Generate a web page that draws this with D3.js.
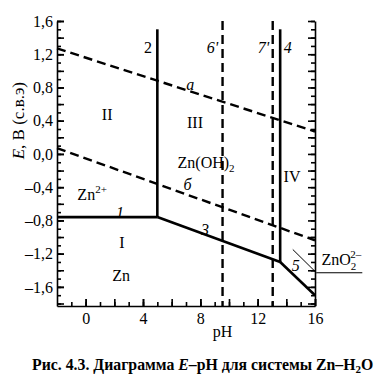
<!DOCTYPE html>
<html>
<head>
<meta charset="utf-8">
<script src="https://cdn.jsdelivr.net/npm/d3@7"></script>
<style>
  body { margin: 0; background: #fff; }
  svg text { font-family: "Liberation Serif", "DejaVu Serif", serif; fill: #000; }
  .axis path, .axis line { stroke: #000; stroke-width: 1.6; }
</style>
</head>
<body>
<svg id="chart" width="377" height="383"></svg>
<script>
// Boundary lines of the Zn-H2O E-pH diagram: [pH, E]
var line1 = [[-2, -0.76], [5, -0.76]];
var line2 = [[5, -0.76], [5, 1.5]];
var line3 = [[5, -0.76], [13.57, -1.3]];
var line4 = [[13.57, -1.3], [13.57, 1.5]];
var line5 = [[13.57, -1.3], [16, -1.7]];
// water stability lines (dashed)
var lineA = [[-2, 1.27], [16, 0.27]];
var lineB = [[-2, 0.07], [16, -1.04]];
var line6 = [[9.55, 1.6], [9.55, -1.83]];
var line7 = [[13.05, 1.6], [13.05, -1.83]];
// leader for ZnO2 2- label
var leader = [[14.45, -1.15], [16.1, -1.43], [19.3, -1.43]];

var xTicks = [0, 4, 8, 12, 16];
var yTicks = [1.6, 1.2, 0.8, 0.4, 0.0, -0.4, -0.8, -1.2, -1.6];

// text labels: [text, pH, E, italic]
var labels = [
    ["2", 4.35, 1.28, false],
    ["6'", 8.85, 1.28, true],
    ["7'", 12.4, 1.28, true],
    ["4", 14.1, 1.28, true],
    ["a", 7.3, 0.84, true],
    ["II", 1.5, 0.47, false],
    ["III", 7.63, 0.38, false],
    ["IV", 14.4, -0.27, false],
    ["\u0431", 7.1, -0.37, true],
    ["1", 2.4, -0.70, true],
    ["I", 2.53, -1.06, false],
    ["Zn", 2.47, -1.46, false],
    ["3", 8.33, -0.91, true],
    ["5", 14.65, -1.34, true]
];

var svg = d3.select("#chart");
var x = d3.scaleLinear().domain([-2, 16]).range([57, 315]);
var y = d3.scaleLinear().domain([-1.83, 1.6]).range([306, 21]);

// axes
var steps = function(a, b, s) { return d3.range(Math.round(a / s), Math.round(b / s) + 1).map(v => +(v * s).toFixed(2)); };
var fmt = v => (v < 0 ? "\u2013" : "") + Math.abs(v).toFixed(1).replace(".", ",");

var yMinor = steps(-1.8, 1.6, 0.1);
var yMid = steps(-1.8, 1.6, 0.2);

svg.append("g").attr("class", "axis")
    .attr("transform", `translate(${x(-2)},0)`)
    .call(d3.axisLeft(y).tickValues(yMinor).tickSize(-4).tickFormat(""))
    .call(g => g.select(".domain").remove());
svg.append("g").attr("class", "axis")
    .attr("transform", `translate(${x(-2)},0)`)
    .call(d3.axisLeft(y).tickValues(yMid).tickSize(-7).tickFormat(""))
    .call(g => g.select(".domain").remove());
svg.append("g").attr("class", "axis")
    .attr("transform", `translate(${x(-2)},0)`)
    .call(d3.axisLeft(y).tickValues(yTicks).tickSize(-7).tickPadding(4).tickFormat(fmt).tickSizeOuter(0))
    .call(g => g.selectAll("text").attr("font-size", 16));

// right axis
svg.append("g").attr("class", "axis")
    .attr("transform", `translate(${x(16)},0)`)
    .call(d3.axisRight(y).tickValues(yMinor).tickSize(-4).tickFormat(""))
    .call(g => g.select(".domain").remove());
svg.append("g").attr("class", "axis")
    .attr("transform", `translate(${x(16)},0)`)
    .call(d3.axisRight(y).tickValues(yMid).tickSize(-7).tickFormat("").tickSizeOuter(0));

// bottom axis
svg.append("g").attr("class", "axis")
    .attr("transform", `translate(0,${y(-1.83)})`)
    .call(d3.axisBottom(x).tickValues(d3.range(-1, 16, 1)).tickSize(-4).tickFormat(""))
    .call(g => g.select(".domain").remove());
svg.append("g").attr("class", "axis")
    .attr("transform", `translate(0,${y(-1.83)})`)
    .call(d3.axisBottom(x).tickValues(d3.range(0, 17, 2)).tickSize(-7).tickFormat(""))
    .call(g => g.select(".domain").remove());
svg.append("g").attr("class", "axis")
    .attr("transform", `translate(0,${y(-1.83)})`)
    .call(d3.axisBottom(x).tickValues(xTicks).tickSize(-7).tickPadding(7).tickSizeOuter(0))
    .call(g => g.selectAll("text").attr("font-size", 16));

var line = d3.line().x(d => x(d[0])).y(d => y(d[1]));

// dashed lines
[lineA, lineB, line6, line7].forEach(d => {
    svg.append("path").attr("d", line(d))
        .attr("fill", "none").attr("stroke", "#000")
        .attr("stroke-width", 2.4).attr("stroke-dasharray", "9,5");
});

// solid boundaries
[line1, line2, line3, line4, line5].forEach(d => {
    svg.append("path").attr("d", line(d))
        .attr("fill", "none").attr("stroke", "#000")
        .attr("stroke-width", 2.6).attr("stroke-linejoin", "round");
});

// leader line
svg.append("path").attr("d", line(leader))
    .attr("fill", "none").attr("stroke", "#000").attr("stroke-width", 1);

// labels
svg.append("g").selectAll("text")
    .data(labels)
    .join("text")
    .attr("x", d => x(d[1]))
    .attr("y", d => y(d[2]))
    .attr("dy", "0.35em")
    .attr("text-anchor", "middle")
    .attr("font-size", 16)
    .attr("font-style", d => d[3] ? "italic" : "normal")
    .text(d => d[0]);

// species labels with sub/superscripts
var zoh = svg.append("text").attr("x", x(8.4)).attr("y", y(-0.1)).attr("dy", "0.35em")
    .attr("text-anchor", "middle").attr("font-size", 16);
zoh.append("tspan").text("Zn(OH)");
zoh.append("tspan").attr("font-size", 11).attr("dy", 4).text("2");

var zn2 = svg.append("text").attr("x", x(0.45)).attr("y", y(-0.49)).attr("dy", "0.35em")
    .attr("text-anchor", "middle").attr("font-size", 16);
zn2.append("tspan").text("Zn");
zn2.append("tspan").attr("font-size", 11).attr("dy", -7).text("2+");

var zno = svg.append("text").attr("x", x(16.45)).attr("y", y(-1.27)).attr("dy", "0.35em")
    .attr("font-size", 16);
zno.append("tspan").text("ZnO");
zno.append("tspan").attr("font-size", 11).attr("dy", 5).text("2");
zno.append("tspan").attr("font-size", 11).attr("dx", -6).attr("dy", -12).text("2\u2013");

// axis titles
var yt = svg.append("text")
    .attr("transform", `translate(24,${y(0.4)}) rotate(-90)`)
    .attr("text-anchor", "middle").attr("font-size", 17);
yt.append("tspan").attr("font-style", "italic").text("E");
yt.append("tspan").text(", В (с.в.э)");

svg.append("text").attr("x", x(9.55)).attr("y", 337)
    .attr("text-anchor", "middle").attr("font-size", 16).text("pH");

// caption
var cap = svg.append("text").attr("x", 32).attr("y", 370)
    .attr("font-size", 15.8).attr("font-weight", "bold");
cap.append("tspan").text("Рис.  4.3. Диаграмма ");
cap.append("tspan").attr("font-style", "italic").text("E");
cap.append("tspan").text("–pH для системы Zn–H");
cap.append("tspan").attr("font-size", 11).attr("dy", 3).text("2");
cap.append("tspan").attr("dy", -3).text("O");
</script>
</body>
</html>
